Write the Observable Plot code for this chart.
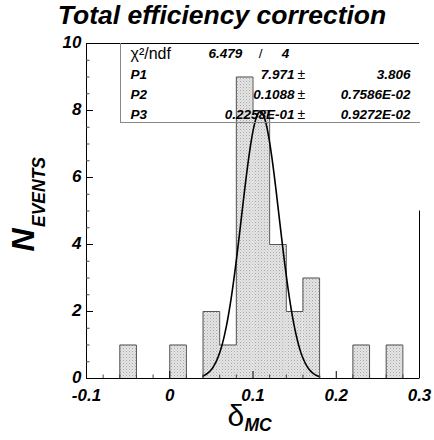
<!DOCTYPE html>
<html>
<head>
<meta charset="utf-8">
<script src="https://cdn.jsdelivr.net/npm/d3@7"></script>
<script src="https://cdn.jsdelivr.net/npm/@observablehq/plot@0.6"></script>
<style>
  html, body { margin: 0; padding: 0; background: #fff; }
  #chart { width: 434px; height: 440px; }
</style>
</head>
<body>
<div id="chart"></div>
<script>
// ---- data ----
const binEdges = [-0.10, -0.08, -0.06, -0.04, -0.02, 0.00, 0.02, 0.04, 0.06, 0.08, 0.10,
                  0.12, 0.14, 0.16, 0.18, 0.20, 0.22, 0.24, 0.26, 0.28, 0.30];
const counts   = [0, 0, 1, 0, 0, 1, 0, 2, 1, 9, 8, 4, 2, 3, 0, 0, 1, 0, 1, 0];
const xTicks = [-0.1, 0, 0.1, 0.2, 0.3];
const yTicks = [0, 2, 4, 6, 8, 10];
const fitNames  = ["P1", "P2", "P3"];
const fitValues = ["7.971", "0.1088", "0.2258E-01"];
const fitErrors = ["3.806", "0.7586E-02", "0.9272E-02"];
const fitParams = [7.971, 0.1088, 0.02258];   // constant, mean, sigma
const fitRange  = [0.04, 0.18];
const chi2 = "6.479", ndf = "4";
const titleText = "Total efficiency correction";

// ---- derived tables ----
const bins = counts.map((c, i) => ({x1: binEdges[i], x2: binEdges[i + 1], y: c}));
const outline = bins.map(b => ({x: b.x1, y: b.y})).concat([{x: binEdges[binEdges.length - 1], y: 0}]);
const [A, mu, sig] = fitParams;
const nPts = 100;
const fitCurve = d3.range(nPts + 1).map(i => {
  const x = fitRange[0] + (fitRange[1] - fitRange[0]) * i / nPts;
  return {x, y: A * Math.exp(-0.5 * ((x - mu) / sig) ** 2)};
});
const xMinor = d3.range(-0.1, 0.3001, 0.02).map(v => +v.toFixed(3)).filter(v => !xTicks.some(t => Math.abs(t - v) < 1e-9));
const yMinor = d3.range(0, 10.001, 0.5).filter(v => !yTicks.includes(v));

const F = "Liberation Sans, Arial, Helvetica, sans-serif";
const bi = {fontFamily: F, fontWeight: "bold", fontStyle: "italic"};
const fx = 0.4 / 333;   // data units per px (x)
const fy = 10 / 335;    // data units per px (y)

// text placed relative to the frame's top-left corner
const T = (s, dx, dy, o = {}) => Plot.text([s], {frameAnchor: "top-left", text: d => d, dx, dy,
  lineAnchor: "middle", textAnchor: "start", fill: "black", fontSize: 13.5, ...bi, ...o});

const rowY = [10, 31, 51.5, 71.5];

const chart = Plot.plot({
  width: 434, height: 440,
  marginLeft: 86, marginRight: 15, marginTop: 43, marginBottom: 62,
  x: {domain: [-0.1, 0.3]},
  y: {domain: [0, 10]},
  style: {fontFamily: F, background: "white", overflow: "visible"},
  marks: [
    Plot.rectY(bins.filter(b => b.y > 0), {x1: "x1", x2: "x2", y: "y", fill: "url(#stip)"}),
    Plot.line(outline, {x: "x", y: "y", curve: "step-after", stroke: "#555", strokeWidth: 1}),
    Plot.line(fitCurve, {x: "x", y: "y", stroke: "black", strokeWidth: 1.6}),
    // frame pieces
    Plot.ruleY([0], {stroke: "black"}),
    Plot.ruleY([10], {stroke: "black"}),
    Plot.ruleX([-0.1], {stroke: "black"}),
    Plot.ruleX([0.3], {y1: 0, y2: 5, stroke: "black"}),
    // inward ticks
    Plot.ruleX(xTicks, {y1: 0, y2: 7 * fy, stroke: "black"}),
    Plot.ruleX(xMinor, {y1: 0, y2: 3.5 * fy, stroke: "#444"}),
    Plot.ruleY(yTicks, {x1: -0.1, x2: -0.1 + 7 * fx, stroke: "black"}),
    Plot.ruleY(yMinor, {x1: -0.1, x2: -0.1 + 3.5 * fx, stroke: "#444"}),
    Plot.axisX({ticks: xTicks, tickSize: 0, tickPadding: 10, tickFormat: d => String(d), fontSize: 17, ...bi, label: null}),
    Plot.axisY({ticks: yTicks, tickSize: 0, tickPadding: 5, tickFormat: d => String(d), fontSize: 17, ...bi, label: null, dy: -1}),
    // stats box
    Plot.frame({anchor: "left", insetLeft: 34, insetBottom: 256, stroke: "#888"}),
    Plot.frame({anchor: "bottom", insetLeft: 34, insetBottom: 256, stroke: "#888"}),
    T("χ²/ndf", 44, rowY[0], {fontWeight: "normal", fontStyle: "normal", fontSize: 16}),
    T(chi2, 122, rowY[0]),
    T("/", 174, rowY[0], {fontWeight: "normal", fontStyle: "normal", textAnchor: "middle"}),
    T(ndf, 199, rowY[0], {textAnchor: "middle"}),
    ...fitNames.map((n, i) => T(n, 44, rowY[i + 1])),
    ...fitValues.map((v, i) => T(v, 208, rowY[i + 1], {textAnchor: "end"})),
    ...fitValues.map((v, i) => T("±", 211, rowY[i + 1], {fontWeight: "normal", fontStyle: "normal", fontSize: 14})),
    ...fitErrors.map((v, i) => T(v, 324, rowY[i + 1], {textAnchor: "end"})),
    // title
    Plot.text([titleText], {frameAnchor: "top", text: d => d, dx: -31, dy: -28, lineAnchor: "middle",
      fontSize: 26.5, ...bi, fill: "black"}),
    // y axis title: N_EVENTS
    Plot.text(["N"], {frameAnchor: "left", text: d => d, rotate: -90, dx: -53, dy: 29, textAnchor: "middle",
      lineAnchor: "bottom", fontSize: 32, ...bi, fill: "black"}),
    Plot.text(["EVENTS"], {frameAnchor: "left", text: d => d, rotate: -90, dx: -42, dy: 16, textAnchor: "start",
      lineAnchor: "bottom", fontSize: 17.5, ...bi, fill: "black"}),
    // x axis title: delta_MC
    Plot.text(["δ"], {frameAnchor: "bottom-left", text: d => d, dx: 141, dy: 47, textAnchor: "start",
      lineAnchor: "bottom", fontSize: 30, fontFamily: F, fill: "black"}),
    Plot.text(["MC"], {frameAnchor: "bottom-left", text: d => d, dx: 158, dy: 52, textAnchor: "start",
      lineAnchor: "bottom", fontSize: 17.5, ...bi, fill: "black"})
  ]
});

// stipple pattern for the histogram fill
const defs = d3.select(chart).insert("defs", ":first-child");
const pat = defs.append("pattern").attr("id", "stip").attr("patternUnits", "userSpaceOnUse")
  .attr("width", 3).attr("height", 3);
pat.append("rect").attr("width", 3).attr("height", 3).attr("fill", "#e4e4e4");
pat.append("rect").attr("x", 0).attr("y", 0).attr("width", 1).attr("height", 1).attr("fill", "#a8a8a8");
pat.append("rect").attr("x", 1.5).attr("y", 1.5).attr("width", 1).attr("height", 1).attr("fill", "#c0c0c0");

document.getElementById("chart").appendChild(chart);
</script>
</body>
</html>
